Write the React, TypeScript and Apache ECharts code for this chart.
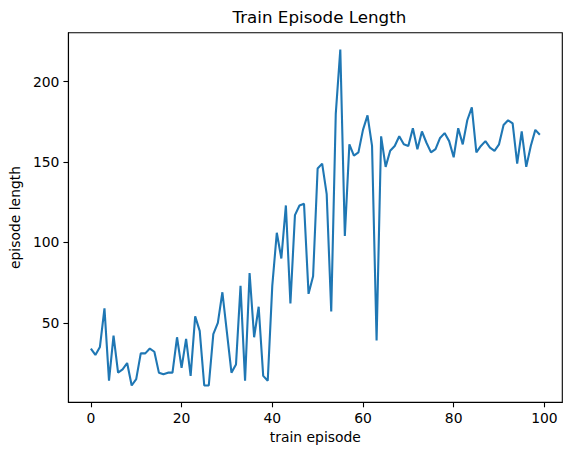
import { FC, useEffect, useRef } from "react";
import * as echarts from "echarts";

// episode lengths, episodes 0..99
const episodeLength: number[] = [
  34, 30, 35, 59, 14, 42, 19, 21, 25, 11,
  15, 31, 31, 34, 32, 19, 18, 19, 19, 41,
  22, 40, 17, 54, 45, 11, 11, 43, 50, 69,
  44, 19, 24, 73, 14, 81, 41, 60, 17, 14,
  73, 106, 90, 123, 62, 117, 123, 124, 68, 79,
  146, 149, 130, 57, 180, 220, 104, 161, 154, 156,
  170, 179, 160, 39, 166, 147, 157, 160, 166, 161,
  160, 171, 158, 169, 162, 156, 158, 165, 168, 163,
  153, 171, 161, 176, 184, 156, 160, 163, 159, 157,
  161, 173, 176, 174, 149, 169, 147, 160, 170, 167,
];
const xTicks = [0, 20, 40, 60, 80, 100];
const yTicks = [50, 100, 150, 200];

const FONT = "DejaVu Sans";

const App: FC = () => {
  const chartRef = useRef<HTMLDivElement>(null);

  useEffect(() => {
    if (!chartRef.current) return;
    const chart = echarts.init(chartRef.current, undefined, { renderer: "svg" });

    const n = episodeLength.length;
    const ymin = Math.min(...episodeLength);
    const ymax = Math.max(...episodeLength);
    const ypad = (ymax - ymin) * 0.05;
    const xpad = (n - 1) * 0.05;

    const axisCommon = {
      axisLine: { show: true, onZero: false, lineStyle: { color: "#000", width: 1.1 } },
      axisTick: { show: true, inside: false, length: 5, lineStyle: { color: "#000", width: 1.1 } },
      splitLine: { show: false },
      axisLabel: { color: "#000", fontSize: 13.9, fontFamily: FONT },
      nameTextStyle: { color: "#000", fontSize: 13.9, fontFamily: FONT },
    };

    chart.setOption({
      animation: false,
      backgroundColor: "#fff",
      title: {
        text: "Train Episode Length",
        left: 314.4,
        top: 3,
        textAlign: "center",
        textStyle: { color: "#000", fontSize: 16.7, fontWeight: "normal", fontFamily: FONT },
      },
      grid: {
        left: 66.5,
        top: 32.7,
        right: 8.7,
        bottom: 52.7,
        show: true,
        borderColor: "#000",
        borderWidth: 1.1,
      },
      xAxis: {
        type: "value",
        min: -xpad,
        max: n - 1 + xpad,
        name: "train episode",
        nameLocation: "middle",
        nameGap: 28,
        ...axisCommon,
        axisTick: { ...axisCommon.axisTick, customValues: xTicks },
        axisLabel: { ...axisCommon.axisLabel, margin: 9, customValues: xTicks },
      },
      yAxis: {
        type: "value",
        min: ymin - ypad,
        max: ymax + ypad,
        name: "episode length",
        nameLocation: "middle",
        nameRotate: 90,
        nameGap: 43,
        ...axisCommon,
        axisTick: { ...axisCommon.axisTick, customValues: yTicks },
        axisLabel: { ...axisCommon.axisLabel, margin: 9, customValues: yTicks },
      },
      series: [
        {
          type: "line",
          data: episodeLength.map((v, i) => [i, v]),
          showSymbol: false,
          symbol: "none",
          lineStyle: { color: "#1f77b4", width: 2.1 },
        },
      ],
    });

    return () => {
      chart.dispose();
    };
  }, []);

  return (
    <div
      ref={chartRef}
      style={{ position: "absolute", left: 0, top: 0, width: 571, height: 455 }}
    />
  );
};

export default App;
